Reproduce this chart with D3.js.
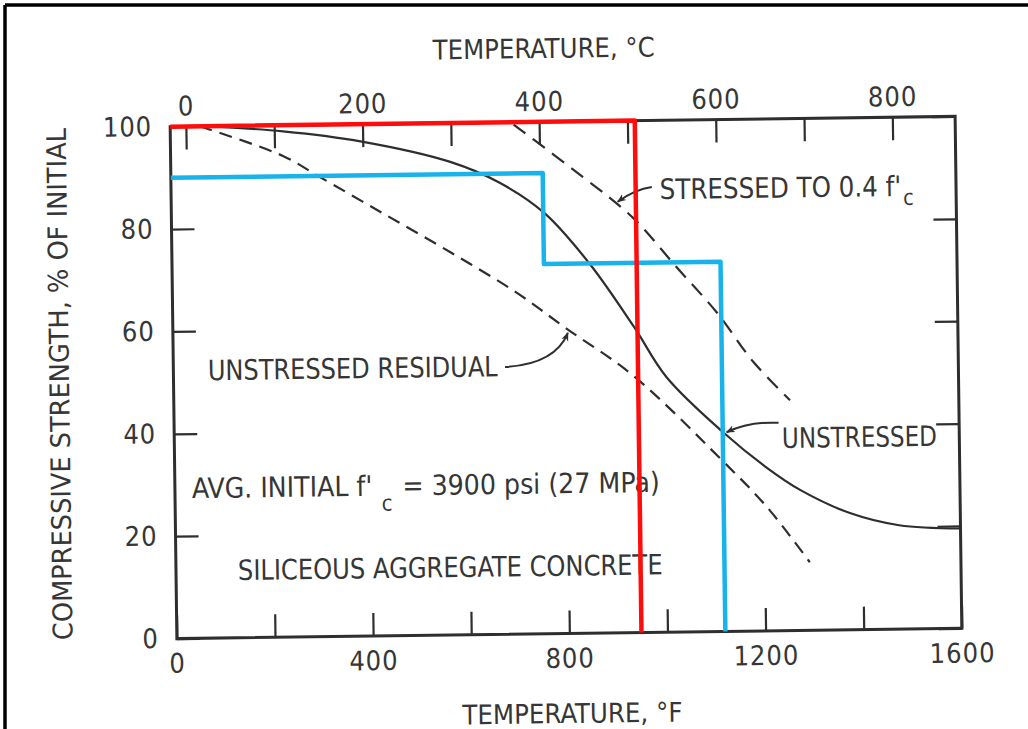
<!DOCTYPE html>
<html><head><meta charset="utf-8">
<script src="https://cdn.jsdelivr.net/npm/d3@7"></script>
<style>
html,body{margin:0;padding:0;background:#fff;}
svg text{font-family:"DejaVu Sans Condensed","DejaVu Sans",sans-serif;font-stretch:condensed;fill:#363636;}
</style></head><body>
<svg id="chart" width="1028" height="729"></svg>
<script>
// ---- tick values / labels ----
const fTicks = [0,200,400,600,800,1000,1200,1400,1600];
const fLabels = [0,400,800,1200,1600];
const cTicks = [0,100,200,300,400,500,600,700,800];
const cLabels = [0,200,400,600,800];
const pctTicks = [0,20,40,60,80,100];

// ---- series (temperature °F, % of initial strength) ----
const unstressedF   = [70, 230, 390, 570, 670, 760, 850, 940, 1005, 1120, 1205, 1275, 1375, 1475, 1600];
const unstressedPct = [100, 98.8, 96.6, 92.4, 88.2, 82.2, 72.3, 59.7, 49.8, 38.8, 32.0, 27.4, 22.8, 20.3, 19.5];

const residualF   = [60, 229, 300, 430, 567, 700, 803, 937, 1112, 1206, 1292];
const residualPct = [100, 94.0, 90.0, 82.6, 74.8, 66.8, 59.5, 50.2, 33.8, 24.2, 13.3];

const stressedF   = [700, 840, 941, 1028, 1110, 1182, 1256];
const stressedPct = [99.5, 89.1, 81.0, 71.3, 62.2, 52.6, 45.0];

const redF   = [0, 947, 947];
const redPct = [100, 100, 0];

const blueF   = [0, 758, 758, 1118, 1118];
const bluePct = [90, 90, 72.2, 72.2, 0];

// ---- texts ----
const titleTop = "TEMPERATURE, °C";
const titleBottom = "TEMPERATURE, °F";
const titleLeft = "COMPRESSIVE STRENGTH, % OF INITIAL";

// annotation leaders: start, control, tip in data units (°F, %)
const leaderNames = ["stressed", "residual", "unstressed"];
const leaderStart = [[980, 87.0], [676, 52.2], [1232, 40.6]];
const leaderCtrl  = [[946, 86.6], [778, 52.6], [1173, 41.0]];
const leaderTip   = [[910, 84.2], [805, 58.7], [1126, 38.9]];

// ---- layout ----
const svg = d3.select("#chart");
const W = 1028, H = 729;
const xF = d3.scaleLinear().domain([0,1600]).range([173.5, 958.5]);
const yP = d3.scaleLinear().domain([0,100]).range([633.5, 121.5]);
const xC = d3.scaleLinear().domain([0,800]).range([xF(32), xF(1472)]);

// image border (top and left)
svg.append("line").attr("x1",5).attr("y1",5).attr("x2",W).attr("y2",5).attr("stroke","#000").attr("stroke-width",3.5);
svg.append("line").attr("x1",5).attr("y1",5).attr("x2",5).attr("y2",H).attr("stroke","#000").attr("stroke-width",3.5);

const g = svg.append("g").attr("transform","rotate(-0.75 566 377.5)");
const ink = "#2e2e2e";

// axes
const tick = 23;
const axB = g.append("g").attr("transform",`translate(0,${yP(0)})`)
  .call(d3.axisBottom(xF).tickValues(fTicks).tickSizeInner(-tick).tickSizeOuter(0).tickPadding(15)
    .tickFormat(d => fLabels.includes(d) ? d : ""));
const axT = g.append("g").attr("transform",`translate(0,${yP(100)})`)
  .call(d3.axisTop(xC).tickValues(cTicks).tickSizeInner(-tick).tickSizeOuter(0).tickPadding(11)
    .tickFormat(d => cLabels.includes(d) ? d : ""));
const axL = g.append("g").attr("transform",`translate(${xF(0)},0)`)
  .call(d3.axisLeft(yP).tickValues(pctTicks).tickSizeInner(-tick).tickSizeOuter(0).tickPadding(18));
const axR = g.append("g").attr("transform",`translate(${xF(1600)},0)`)
  .call(d3.axisRight(yP).tickValues(pctTicks).tickSizeInner(-tick).tickSizeOuter(0).tickFormat(""));
[axB, axT, axL, axR].forEach(a => {
  a.select(".domain").remove();
  a.selectAll(".tick line").attr("stroke", ink).attr("stroke-width", 2.2);
  a.selectAll(".tick text").attr("font-size", 27).attr("fill", "#363636")
    .style("font-family",'"DejaVu Sans Condensed","DejaVu Sans",sans-serif').attr("letter-spacing", 1);
});

// frame
g.append("rect").attr("x",xF(0)).attr("y",yP(100)).attr("width",xF(1600)-xF(0)).attr("height",yP(0)-yP(100))
  .attr("fill","none").attr("stroke",ink).attr("stroke-width",3);

// curves
const line = d3.line().x(d => xF(d[0])).y(d => yP(d[1])).curve(d3.curveCatmullRom.alpha(0.5));
const zip = (a,b) => a.map((v,i) => [v, b[i]]);
g.append("path").attr("d", line(zip(unstressedF, unstressedPct))).attr("fill","none").attr("stroke",ink).attr("stroke-width",2.2);
g.append("path").attr("d", line(zip(residualF, residualPct))).attr("fill","none").attr("stroke",ink).attr("stroke-width",2.2).attr("stroke-dasharray","13,8");
g.append("path").attr("d", line(zip(stressedF, stressedPct))).attr("fill","none").attr("stroke",ink).attr("stroke-width",2.2).attr("stroke-dasharray","15,9");

// arrow marker
const defs = svg.append("defs");
defs.append("marker").attr("id","arr").attr("viewBox","0 0 10 10").attr("refX",9).attr("refY",5)
  .attr("markerWidth",9).attr("markerHeight",9).attr("markerUnits","userSpaceOnUse").attr("orient","auto")
  .append("path").attr("d","M0,1 L10,5 L0,9 L3,5 Z").attr("fill",ink);

leaderNames.forEach((n,i) => {
  const s = leaderStart[i], c = leaderCtrl[i], t = leaderTip[i];
  const p = d3.path();
  p.moveTo(xF(s[0]), yP(s[1]));
  p.quadraticCurveTo(xF(c[0]), yP(c[1]), xF(t[0]), yP(t[1]));
  g.append("path").attr("d", p.toString()).attr("fill","none").attr("stroke",ink).attr("stroke-width",2).attr("marker-end","url(#arr)");
});

// texts
function txt(x, y, s, size, len, anchor) {
  const t = g.append("text").attr("x", x).attr("y", y).attr("font-size", size).text(s);
  if (len) t.attr("textLength", len).attr("lengthAdjust","spacingAndGlyphs");
  if (anchor) t.attr("text-anchor", anchor);
  return t;
}
// text fitted by horizontal scaling, with optional subscript tspans
function fitText(x, y, parts, size, width) {
  const t = g.append("text").attr("x", x).attr("y", y).attr("font-size", size);
  parts.forEach(p => {
    const ts = t.append("tspan").text(p.s);
    if (p.sub) ts.attr("font-size", size * 0.78).attr("dy", p.sub).attr("dx", p.dx || 0);
    else if (p.dy) ts.attr("dy", p.dy).attr("dx", p.dx || 0);
  });
  const w = t.node().getComputedTextLength();
  if (w > 0) {
    const k = width / w;
    t.attr("transform", `translate(${x},0) scale(${k},1) translate(${-x},0)`);
  }
  return t;
}
txt(548, 57.7, titleTop, 27, 222, "middle");
txt(568, 723, titleBottom, 27, 220, "middle");
g.append("text").attr("transform","translate(69,377.4) rotate(-90)").attr("text-anchor","middle")
  .attr("font-size",27).attr("textLength",512).attr("lengthAdjust","spacingAndGlyphs").text(titleLeft);

// annotation labels (anchored in data units)
const ax = (f) => xF(f), ay = (p) => yP(p);
fitText(ax(996), ay(84.6), [{s:"STRESSED TO 0.4 f'"}, {s:"c", sub:9, dx:2}], 28, 252);
fitText(ax(70.3), ay(50.4), [{s:"UNSTRESSED RESIDUAL"}], 28, 290);
fitText(ax(1238.5), ay(35.7), [{s:"UNSTRESSED"}], 28, 155);
fitText(ax(34.4), ay(27.4), [{s:"AVG. INITIAL f'"}, {s:"c", sub:15, dx:9}, {s:" = 3900 psi (27 MPa)", dy:-15, dx:2}], 28, 457);
fitText(ax(126.2), ay(11.3), [{s:"SILICEOUS AGGREGATE CONCRETE"}], 28, 425);

// coloured overlay step lines
const step = d3.line().x(d => xF(d[0])).y(d => yP(d[1]));
g.append("path").attr("d", step(zip(blueF, bluePct))).attr("fill","none").attr("stroke","#19b2ea").attr("stroke-width",4.5).attr("stroke-linejoin","round");
g.append("path").attr("d", step(zip(redF, redPct))).attr("fill","none").attr("stroke","#ff0d0d").attr("stroke-width",4.5).attr("stroke-linejoin","round");
</script>
</body></html>
